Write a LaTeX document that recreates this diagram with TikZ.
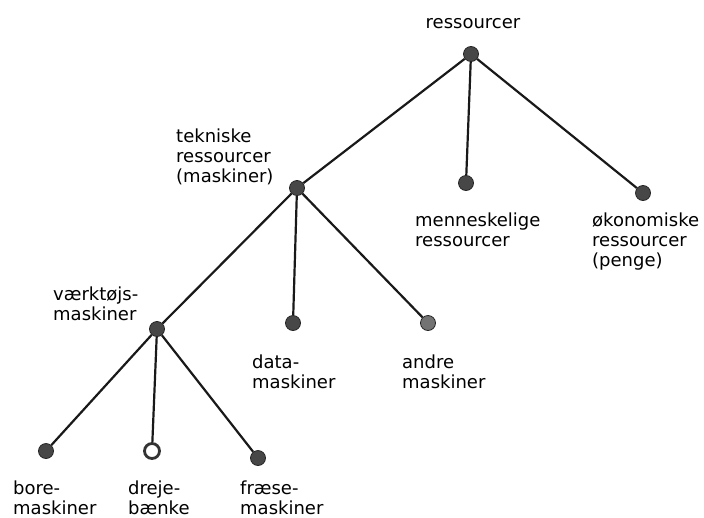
\documentclass[tikz,border=0pt]{standalone}
\usepackage{fontspec}
\setmainfont{DejaVu Sans}
\begin{document}
\begin{tikzpicture}[x=1pt,y=-1pt,
  dot/.style={circle,fill=black!72,draw=black!85,line width=0.8pt,minimum size=15pt,inner sep=0pt},
  opendot/.style={circle,fill=white,draw=black!80,line width=2.8pt,minimum size=15pt,inner sep=0pt},
  lbl/.style={anchor=base west,align=left,inner sep=0pt,font=\fontsize{18}{20}\selectfont},
  edge/.style={line width=2.2pt,black!90}]
\useasboundingbox (0,0) rectangle (704,517);
% dots
\node[dot] (root) at (471,54) {};
\node[dot] (mensk) at (466,183) {};
\node[dot] (oko) at (643,193) {};
\node[dot] (tek) at (297,188) {};
\node[dot] (data) at (293,323) {};
\node[dot,fill=black!55] (andre) at (428,323) {};
\node[dot] (vaerk) at (157,329) {};
\node[dot] (bore) at (46,451) {};
\node[opendot] (dreje) at (152,451) {};
\node[dot] (fraese) at (258,458) {};
% edges
\draw[edge] (root) -- (tek);
\draw[edge] (root) -- (mensk);
\draw[edge] (root) -- (oko);
\draw[edge] (tek) -- (vaerk);
\draw[edge] (tek) -- (data);
\draw[edge] (tek) -- (andre);
\draw[edge] (vaerk) -- (bore);
\draw[edge] (vaerk) -- (dreje);
\draw[edge] (vaerk) -- (fraese);
% labels (base anchor = baseline of last line)
\node[lbl,anchor=base] (lroot) at (473,28) {ressourcer};
\node[lbl] (lmensk) at (415,246) {menneskelige\\ressourcer};
\node[lbl] (loko) at (592,266) {økonomiske\\ressourcer\\(penge)};
\node[lbl] (ltek) at (176,182) {tekniske\\ressourcer\\(maskiner)};
\node[lbl] (ldata) at (252,388) {data-\\maskiner};
\node[lbl] (landre) at (402,388) {andre\\maskiner};
\node[lbl] (lvaerk) at (53,320) {værktøjs-\\maskiner};
\node[lbl] (lbore) at (13,514) {bore-\\maskiner};
\node[lbl] (ldreje) at (128,514) {dreje-\\bænke};
\node[lbl] (lfraese) at (240,514) {fræse-\\maskiner};
\end{tikzpicture}
\end{document}
